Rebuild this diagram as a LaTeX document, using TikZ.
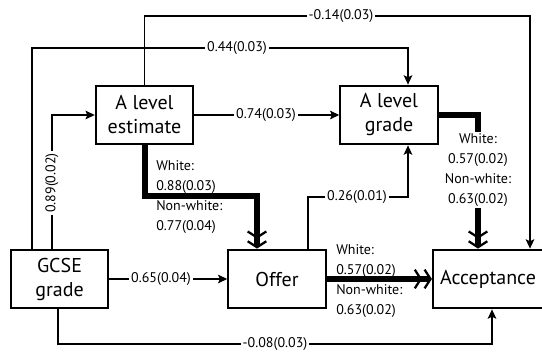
\documentclass[tikz,border=0pt]{standalone}
\usepackage{fontspec}
\setmainfont{PT Sans}
\usetikzlibrary{arrows.meta,positioning,calc}
\definecolor{ink}{HTML}{000000}
\tikzset{
  box/.style={draw=ink,line width=1.6pt,minimum width=73pt,minimum height=44pt,align=center,inner sep=2pt,font=\fontsize{15}{18}\selectfont,text=ink},
  wbox/.style={box,minimum width=82.5pt},
  arr/.style={-{Stealth[length=7pt,width=6.5pt,inset=1.5pt]},line width=0.85pt,ink},
  heavy/.style={-{Straight Barb[length=4.5pt,width=14pt,line width=1.7pt,sep=1pt]Straight Barb[length=4.5pt,width=14pt,line width=1.7pt]},line width=4.5pt,ink},
  lab/.style={font=\fontsize{10.5}{15}\selectfont,inner sep=1.5pt,text=ink},
  wlab/.style={lab,fill=white}
}

\begin{document}
\begin{tikzpicture}[x=0.75pt,y=-0.75pt]
\useasboundingbox (0,0) rectangle (542,353);
% five boxes
\node[box]  (est)    at (144.5,115) {A level\\estimate};
\node[box]  (grade)  at (389,115)   {A level\\grade};
\node[box]  (gcse)   at (59.5,279)  {GCSE\\grade};
\node[box]  (offer)  at (277,279)   {Offer};
\node[wbox] (accept) at (488,279)   {Acceptance};
% thin paths
\draw[arr] (est.north) |- (530,16) -- (accept.north -| 530,0);
\draw[arr] (gcse.north -| 32,0) |- (408,48) -- (grade.north -| 408,0);
\draw[arr] (gcse.north -| 52,0) |- (est.west);
\draw[arr] (est.east) -- (grade.west);
\draw[arr] (offer.north -| 308,0) |- (408,197) -- (grade.south -| 408,0);
\draw[arr] (gcse.east) -- (offer.west);
\draw[arr] (gcse.south -| 58,0) |- (492,344) -- (accept.south -| 492,0);
% heavy paths, split by ethnic group
\draw[heavy] (est.south) |- (257,196) -- (offer.north -| 257,0);
\draw[heavy] (grade.east) -| (accept.north -| 478,0);
\draw[heavy] (offer.east) -- (accept.west);
% labels
\node[wlab] (l014) at (341,16)  {-0.14(0.03)};
\node[wlab] (l044) at (237,48)  {0.44(0.03)};
\node[wlab,rotate=90] (l089) at (52,183) {0.89(0.02)};
\node[wlab] (l074) at (266,115) {0.74(0.03)};
\node[wlab] (l026) at (357,197) {0.26(0.01)};
\node[wlab] (l065) at (161,279) {0.65(0.04)};
\node[wlab] (l008) at (275,344) {-0.08(0.03)};
\node[lab,align=left,anchor=west]  (lest)   at (154,197) {White:\\0.88(0.03)\\Non-white:\\0.77(0.04)};
\node[wlab,align=center]           (lgrade) at (478,170) {White:\\0.57(0.02)\\Non-white:\\0.63(0.02)};
\node[lab,align=left,anchor=west]  (loffer) at (334,281) {White:\\0.57(0.02)\\Non-white:\\0.63(0.02)};
\end{tikzpicture}
\end{document}
